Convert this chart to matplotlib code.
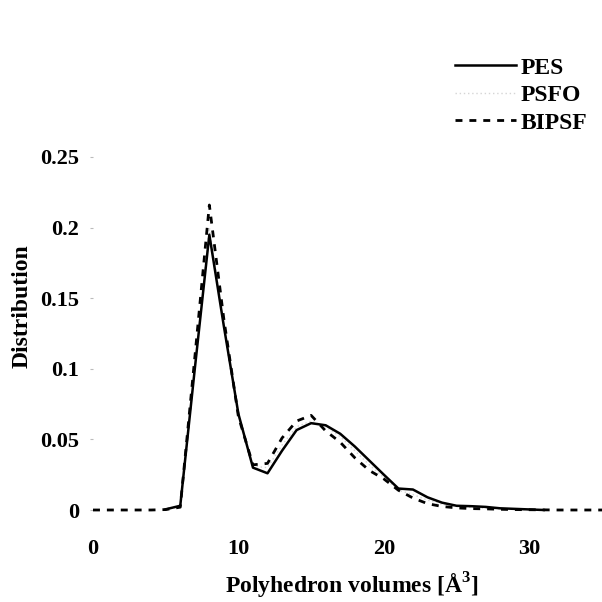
import matplotlib
matplotlib.use("Agg")
import matplotlib.pyplot as plt
import numpy as np

volumes = list(range(0, 36))
# None = no value recorded at that volume
pes = [None, None, None, None, None, 0.0005, 0.003, 0.100, 0.195, 0.130, 0.068, 0.030, 0.026,
       0.042, 0.0566, 0.0615, 0.060, 0.054, 0.045, 0.035, 0.025, 0.0152, 0.0145,
       0.009, 0.0052, 0.003, 0.0027, 0.0022, 0.0012, 0.0008, 0.0004, 0.0,
       None, None, None, None]
psfo = [None, None, None, None, None, 0.0004, 0.0025, 0.100, 0.200, 0.132, 0.067, 0.031, 0.030,
        0.046, 0.059, 0.063, 0.059, 0.052, 0.042, 0.032, 0.023, 0.014, 0.011,
        0.007, 0.004, 0.0025, 0.0018, 0.0012, 0.0007, 0.0004, 0.0002, 0.0,
        None, None, None, None]
bipsf = [0, 0, 0, 0, 0, 0.0003, 0.002, 0.108, 0.216, 0.135, 0.066, 0.032, 0.033,
         0.051, 0.063, 0.067, 0.056, 0.048, 0.037, 0.028, 0.022, 0.014, 0.0085,
         0.0045, 0.0025, 0.0015, 0.001, 0.0008, 0.0005, 0.0003, 0.0002, 0.0001,
         0, 0, 0, 0]

xticks = [0, 10, 20, 30]
yticks = [0, 0.05, 0.1, 0.15, 0.2, 0.25]
yticklabels = ["0", "0.05", "0.1", "0.15", "0.2", "0.25"]

def arr(v):
    return np.array([np.nan if a is None else a for a in v], dtype=float)

plt.rcParams['font.family'] = ['Liberation Serif', 'DejaVu Serif']
plt.rcParams['font.weight'] = 'bold'
plt.rcParams['mathtext.fontset'] = 'custom'
plt.rcParams['mathtext.bf'] = 'Liberation Serif:bold'
plt.rcParams['mathtext.rm'] = 'Liberation Serif:bold'

fig = plt.figure(figsize=(6.02, 6.02), dpi=100)
ax = fig.add_axes([93/602, 1 - 510/602, 1 - 93/602, (510 - 157)/602])

ax.plot(volumes, arr(psfo), color='#d5d5d5', lw=1.0, ls=(0, (1, 2)), label='PSFO', clip_on=False, zorder=2)
ax.plot(volumes, arr(pes), color='black', lw=1.8, ls='-', label='PES', clip_on=False, zorder=3)
ax.plot(volumes, arr(bipsf), color='black', lw=2.0, ls=(0, (2.5, 2.5)), label='BIPSF', clip_on=False, zorder=4)

ax.set_xlim(0, 35)
ax.set_ylim(0, 0.25)
for s in ax.spines.values():
    s.set_visible(False)

ax.set_xticks(xticks)
ax.set_xticklabels([str(t) for t in xticks], fontsize=16, fontweight='bold')
ax.set_yticks(yticks)
ax.set_yticklabels(yticklabels, fontsize=16, fontweight='bold')
ax.tick_params(axis='x', length=0, pad=21)
ax.tick_params(axis='y', length=2, color='#bbbbbb', pad=8)

ax.set_xlabel("Polyhedron volumes [Å$^\\mathbf{3}$]", fontsize=17, fontweight='bold')
ax.set_ylabel("Distribution", fontsize=17, fontweight='bold')
ax.xaxis.set_label_coords(0.509, -0.172)
ax.yaxis.set_label_coords(-0.118, 0.578)

handles, labels = ax.get_legend_handles_labels()
order = [1, 0, 2]
leg = ax.legend([handles[i] for i in order], [labels[i] for i in order],
                loc='upper right', bbox_to_anchor=(1.0, 1 - 43/602),
                bbox_transform=fig.transFigure, frameon=False,
                prop={'size': 17, 'weight': 'bold'}, handlelength=2.6,
                handletextpad=0.2, labelspacing=0.25, borderaxespad=0.2)

fig.savefig("out.png", dpi=100, facecolor='white')
